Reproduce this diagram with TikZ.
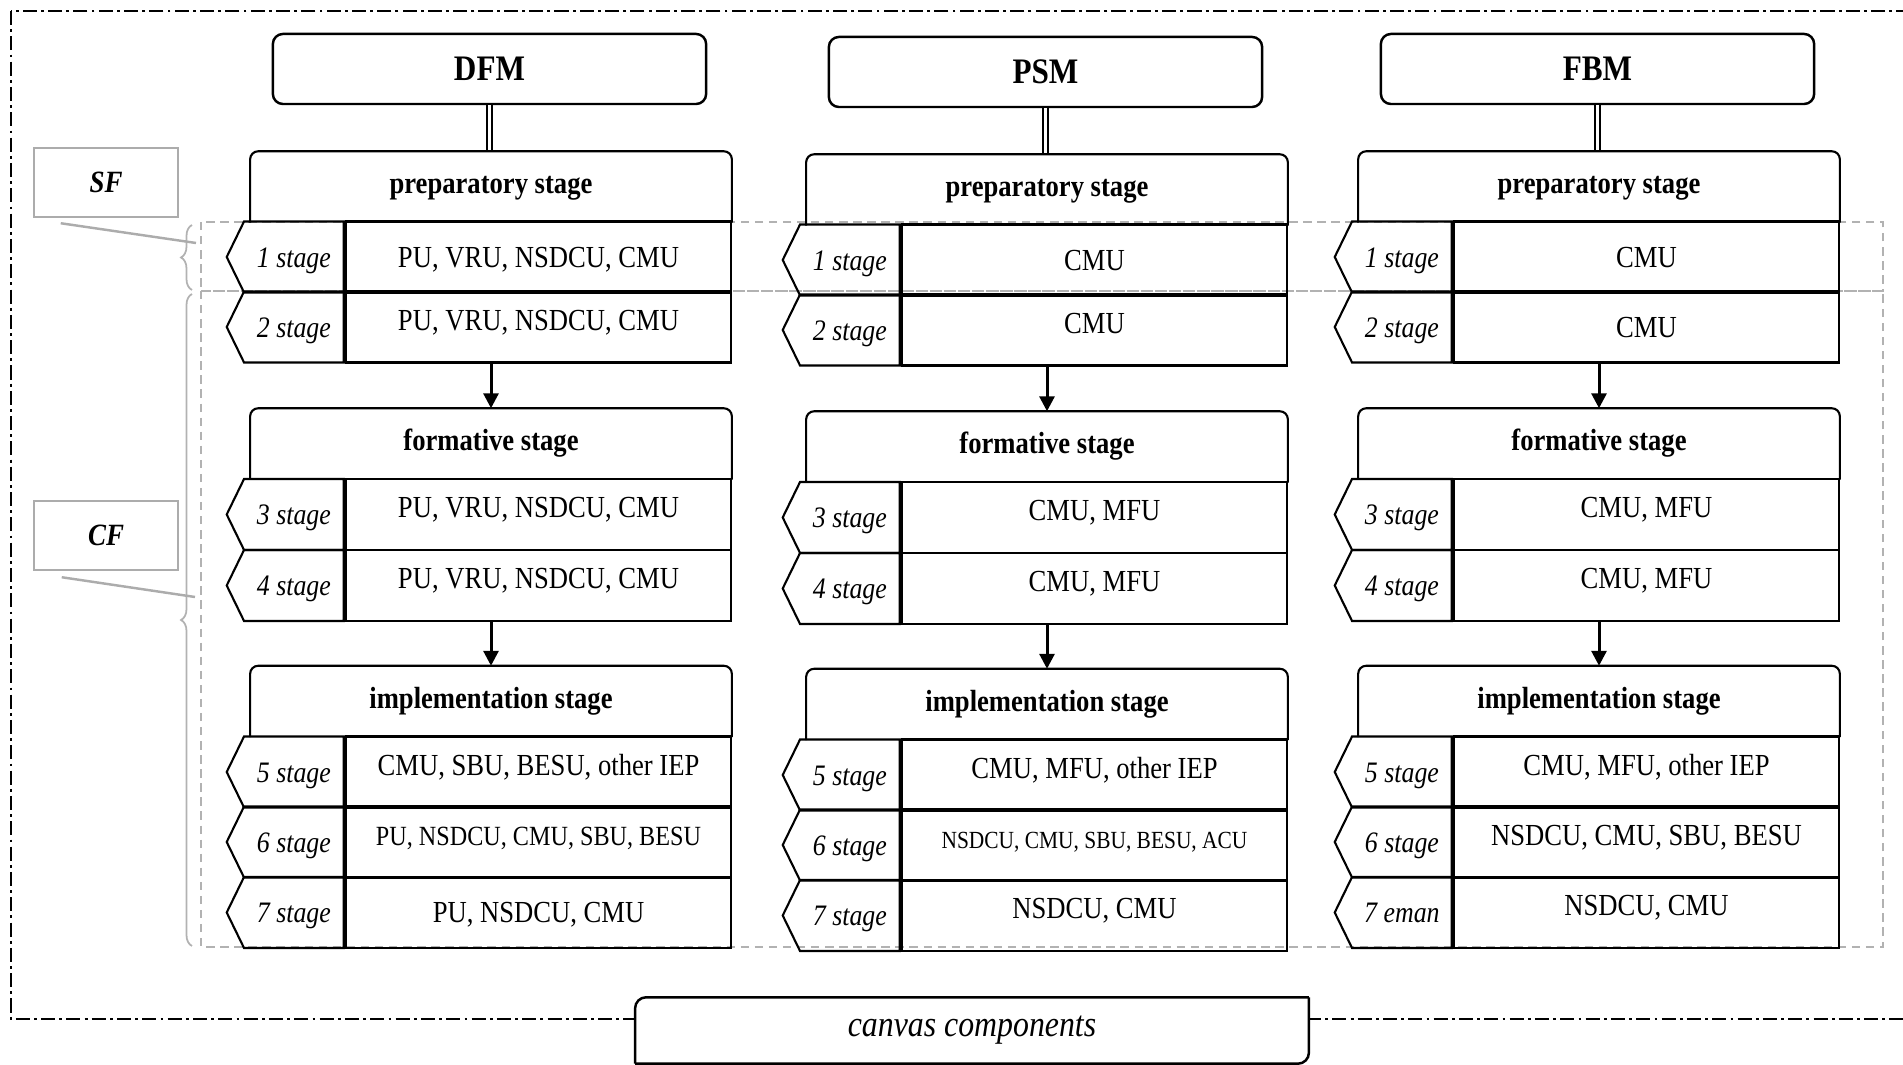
\documentclass[tikz,border=0pt]{standalone}
\usepackage{fontspec}
\setmainfont{Liberation Serif}[FakeStretch=0.87]
\usetikzlibrary{shapes.symbols,arrows.meta,decorations.pathreplacing}

\begin{document}
\begin{tikzpicture}[x=0.01cm, y=-0.01cm,
    model/.style={draw, line width=0.7pt, rounded corners=0.1cm, minimum width=4.33cm, minimum height=0.7cm, font=\fontsize{10.2}{12}\selectfont\bfseries, text height=6.8pt, text depth=0pt},
    head/.style={minimum width=4.8cm, minimum height=0.7cm, font=\fontsize{8.7}{10}\selectfont\bfseries, text height=5.8pt, text depth=2pt},
    headline/.style={line width=0.6pt, rounded corners=0.08cm},
    tag/.style={draw, line width=0.6pt, signal, signal to=west, signal from=nowhere, signal pointer angle=128, minimum width=1.17cm, minimum height=0.71cm, inner sep=0pt, anchor=east, font=\fontsize{8.45}{10}\selectfont\itshape, text height=5.8pt, text depth=0pt},
    cell/.style={draw, line width=0.6pt, minimum width=3.85cm, minimum height=0.71cm, inner sep=0pt, font=\fontsize{8.7}{10}\selectfont, text height=5.8pt, text depth=0pt},
    lifted/.style={text depth=4pt},
    smaller/.style={font=\fontsize{7.9}{9}\selectfont},
    smallest/.style={font=\fontsize{7}{8}\selectfont},
    link/.style={line width=0.45pt, double, double distance=1pt},
    flow/.style={line width=0.85pt, -{Triangle[width=4.2pt,length=4.2pt]}},
    band/.style={gray!60, line width=0.4pt, dash pattern=on 2.4pt off 1.6pt},
    sidebox/.style={draw=gray!65, line width=0.7pt, minimum width=1.44cm, minimum height=0.69cm, font=\fontsize{8.8}{10}\selectfont\bfseries\itshape},
    leader/.style={gray!65, line width=0.7pt},
    bracket/.style={gray!60, line width=0.5pt, decorate, decoration={brace, amplitude=0.11cm}},
    frame/.style={line width=0.45pt, dash pattern=on 4pt off 1.2pt on 0.8pt off 1.2pt},
    canvas/.style={fill=white, minimum width=6.72cm, minimum height=0.65cm, font=\fontsize{10.4}{12}\selectfont\itshape}]

    \useasboundingbox (0,0) rectangle (1903,1065);

    % Outer frame
    \draw[frame] (11,11) rectangle (1915,1019);

    % SF / CF ranges
    \draw[band] (201,222) rectangle (1883,291);
    \draw[band] (201,291) rectangle (1883,947);
    \draw[bracket] (192,290) -- (192,225);
    \draw[bracket] (192,946) -- (192,294);
    \node[sidebox] (sf) at (106,182.5) {SF};
    \node[sidebox] (cf) at (106,535.5) {CF};
    \coordinate (sf-end) at (196,243);
    \coordinate (cf-end) at (195,597);
    \draw[leader] ([xshift=0.28cm,yshift=-0.05cm]sf.south west) -- (sf-end);
    \draw[leader] ([xshift=0.29cm,yshift=-0.06cm]cf.south west) -- (cf-end);

    % DFM
    \node[model] (dfm) at (489.5,69) {DFM};
    \node[head] (dfm-prep) at (491,187) {preparatory stage};
    \draw[link] (dfm.south) -- (dfm.south |- dfm-prep.north);
    \draw[headline] (dfm-prep.south west) |- (dfm-prep.north) -| (dfm-prep.south east);
    \node[cell] (dfm-cell1) at (538.5,257) {PU, VRU, NSDCU, CMU};
    \node[tag] (dfm-tag1) at (dfm-cell1.west) {1 stage};
    \node[cell, lifted] (dfm-cell2) at (538.5,327) {PU, VRU, NSDCU, CMU};
    \node[tag] (dfm-tag2) at (dfm-cell2.west) {2 stage};
    \node[head] (dfm-form) at (491,444) {formative stage};
    \draw[headline] (dfm-form.south west) |- (dfm-form.north) -| (dfm-form.south east);
    \node[cell, lifted] (dfm-cell3) at (538.5,514.5) {PU, VRU, NSDCU, CMU};
    \node[tag] (dfm-tag3) at (dfm-cell3.west) {3 stage};
    \node[cell, lifted] (dfm-cell4) at (538.5,585.5) {PU, VRU, NSDCU, CMU};
    \node[tag] (dfm-tag4) at (dfm-cell4.west) {4 stage};
    \node[head] (dfm-impl) at (491,701.5) {implementation stage};
    \draw[headline] (dfm-impl.south west) |- (dfm-impl.north) -| (dfm-impl.south east);
    \node[cell, lifted] (dfm-cell5) at (538.5,772) {CMU, SBU, BESU, other IEP};
    \node[tag] (dfm-tag5) at (dfm-cell5.west) {5 stage};
    \node[cell, lifted, smaller] (dfm-cell6) at (538.5,842) {PU, NSDCU, CMU, SBU, BESU};
    \node[tag] (dfm-tag6) at (dfm-cell6.west) {6 stage};
    \node[cell] (dfm-cell7) at (538.5,912.5) {PU, NSDCU, CMU};
    \node[tag] (dfm-tag7) at (dfm-cell7.west) {7 stage};
    \draw[flow] (dfm-cell2.south -| dfm-form.north) -- (dfm-form.north);
    \draw[flow] (dfm-cell4.south -| dfm-impl.north) -- (dfm-impl.north);

    % PSM
    \node[model] (psm) at (1045.5,72) {PSM};
    \node[head] (psm-prep) at (1047,190) {preparatory stage};
    \draw[link] (psm.south) -- (psm.south |- psm-prep.north);
    \draw[headline] (psm-prep.south west) |- (psm-prep.north) -| (psm-prep.south east);
    \node[cell] (psm-cell1) at (1094.5,260) {CMU};
    \node[tag] (psm-tag1) at (psm-cell1.west) {1 stage};
    \node[cell, lifted] (psm-cell2) at (1094.5,330) {CMU};
    \node[tag] (psm-tag2) at (psm-cell2.west) {2 stage};
    \node[head] (psm-form) at (1047,447) {formative stage};
    \draw[headline] (psm-form.south west) |- (psm-form.north) -| (psm-form.south east);
    \node[cell, lifted] (psm-cell3) at (1094.5,517.5) {CMU, MFU};
    \node[tag] (psm-tag3) at (psm-cell3.west) {3 stage};
    \node[cell, lifted] (psm-cell4) at (1094.5,588.5) {CMU, MFU};
    \node[tag] (psm-tag4) at (psm-cell4.west) {4 stage};
    \node[head] (psm-impl) at (1047,704.5) {implementation stage};
    \draw[headline] (psm-impl.south west) |- (psm-impl.north) -| (psm-impl.south east);
    \node[cell, lifted] (psm-cell5) at (1094.5,775) {CMU, MFU, other IEP};
    \node[tag] (psm-tag5) at (psm-cell5.west) {5 stage};
    \node[cell, lifted, smallest] (psm-cell6) at (1094.5,845) {NSDCU, CMU, SBU, BESU, ACU};
    \node[tag] (psm-tag6) at (psm-cell6.west) {6 stage};
    \node[cell, lifted] (psm-cell7) at (1094.5,915.5) {NSDCU, CMU};
    \node[tag] (psm-tag7) at (psm-cell7.west) {7 stage};
    \draw[flow] (psm-cell2.south -| psm-form.north) -- (psm-form.north);
    \draw[flow] (psm-cell4.south -| psm-impl.north) -- (psm-impl.north);

    % FBM
    \node[model] (fbm) at (1597.5,69) {FBM};
    \node[head] (fbm-prep) at (1599,187) {preparatory stage};
    \draw[link] (fbm.south) -- (fbm.south |- fbm-prep.north);
    \draw[headline] (fbm-prep.south west) |- (fbm-prep.north) -| (fbm-prep.south east);
    \node[cell] (fbm-cell1) at (1646.5,257) {CMU};
    \node[tag] (fbm-tag1) at (fbm-cell1.west) {1 stage};
    \node[cell] (fbm-cell2) at (1646.5,327) {CMU};
    \node[tag] (fbm-tag2) at (fbm-cell2.west) {2 stage};
    \node[head] (fbm-form) at (1599,444) {formative stage};
    \draw[headline] (fbm-form.south west) |- (fbm-form.north) -| (fbm-form.south east);
    \node[cell, lifted] (fbm-cell3) at (1646.5,514.5) {CMU, MFU};
    \node[tag] (fbm-tag3) at (fbm-cell3.west) {3 stage};
    \node[cell, lifted] (fbm-cell4) at (1646.5,585.5) {CMU, MFU};
    \node[tag] (fbm-tag4) at (fbm-cell4.west) {4 stage};
    \node[head] (fbm-impl) at (1599,701.5) {implementation stage};
    \draw[headline] (fbm-impl.south west) |- (fbm-impl.north) -| (fbm-impl.south east);
    \node[cell, lifted] (fbm-cell5) at (1646.5,772) {CMU, MFU, other IEP};
    \node[tag] (fbm-tag5) at (fbm-cell5.west) {5 stage};
    \node[cell, lifted] (fbm-cell6) at (1646.5,842) {NSDCU, CMU, SBU, BESU};
    \node[tag] (fbm-tag6) at (fbm-cell6.west) {6 stage};
    \node[cell, lifted] (fbm-cell7) at (1646.5,912.5) {NSDCU, CMU};
    \node[tag] (fbm-tag7) at (fbm-cell7.west) {7 eman};
    \draw[flow] (fbm-cell2.south -| fbm-form.north) -- (fbm-form.north);
    \draw[flow] (fbm-cell4.south -| fbm-impl.north) -- (fbm-impl.north);

    % Canvas components
    \node[canvas] (canv) at (972,1030.5) {canvas components};
    \draw[line width=0.7pt, rounded corners=0.11cm] (canv.south west) |- (canv.north east);
    \draw[line width=0.7pt, rounded corners=0.11cm] (canv.north east) |- (canv.south west);
\end{tikzpicture}
\end{document}
